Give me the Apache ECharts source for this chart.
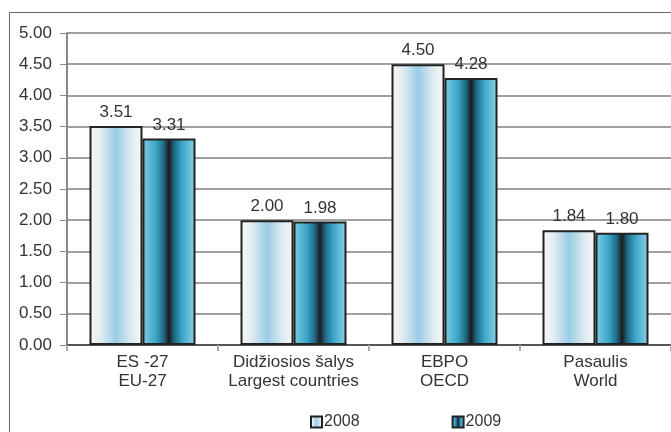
<!DOCTYPE html>
<html><head><meta charset="utf-8">
<script src="https://cdn.jsdelivr.net/npm/echarts@6/dist/echarts.min.js"></script>
<style>html,body{margin:0;padding:0;background:#fff}#c{width:671px;height:432px}</style>
</head><body><div id="c"></div>
<script>
const categories = ["ES -27\nEU-27", "Didžiosios šalys\nLargest countries", "EBPO\nOECD", "Pasaulis\nWorld"];
const seriesNames = ["2008", "2009"];
const values2008 = [3.51, 2.00, 4.50, 1.84];
const values2009 = [3.31, 1.98, 4.28, 1.80];

const grad2008 = new echarts.graphic.LinearGradient(0,0,1,0,[
  {offset:0,color:'#f7f7f7'},{offset:0.2,color:'#e4eef2'},{offset:0.5,color:'#98cde6'},
  {offset:0.8,color:'#e0ecf1'},{offset:1,color:'#f8f8f8'}]);
const grad2009 = new echarts.graphic.LinearGradient(0,0,1,0,[
  {offset:0,color:'#80cce2'},{offset:0.25,color:'#3ba6c9'},{offset:0.4,color:'#1f6a86'},
  {offset:0.5,color:'#1c1c1c'},{offset:0.6,color:'#1f6a86'},{offset:0.75,color:'#3ba6c9'},
  {offset:1,color:'#90d2e7'}]);

const font = 'Liberation Sans, Arial, sans-serif';
const txt = '#333';
const chart = echarts.init(document.getElementById('c'));
chart.setOption({
  animation:false,
  graphic:[{type:'rect',left:7,top:10,shape:{width:700,height:440},style:{fill:'none',stroke:'#666',lineWidth:1},z:-1}],
  grid:{left:67,top:33,width:608,height:312},
  legend:{top:409,left:305,itemGap:92,itemWidth:11,itemHeight:11,icon:'rect',
    textStyle:{fontFamily:font,fontSize:16,color:txt,padding:[0,0,0,-3]},data:seriesNames},
  xAxis:{type:'category',data:categories,
    axisLine:{lineStyle:{color:'#555',width:2}},
    axisTick:{show:true,length:6,lineStyle:{color:'#aaa',width:2}},
    axisLabel:{interval:0,fontFamily:font,fontSize:17,color:txt,lineHeight:19,margin:8}},
  yAxis:{type:'value',min:0,max:5,interval:0.5,
    axisLine:{show:true,lineStyle:{color:'#888',width:2}},
    axisTick:{show:true,length:7,lineStyle:{color:'#888',width:1}},
    splitLine:{lineStyle:{color:'#a0a0a0',width:2}},
    axisLabel:{fontFamily:font,fontSize:17,color:txt,margin:15,formatter:v=>v.toFixed(2)}},
  series:[
    {name:seriesNames[0],type:'bar',data:values2008,barWidth:53,barGap:'0%',
      itemStyle:{color:grad2008,borderColor:'#222',borderWidth:2},
      label:{show:true,position:'top',distance:5,fontFamily:font,fontSize:17,color:txt,formatter:p=>p.value.toFixed(2)}},
    {name:seriesNames[1],type:'bar',data:values2009,barWidth:53,barGap:'0%',
      itemStyle:{color:grad2009,borderColor:'#222',borderWidth:2},
      label:{show:true,position:'top',distance:5,fontFamily:font,fontSize:17,color:txt,formatter:p=>p.value.toFixed(2)}}
  ]
});
</script></body></html>
